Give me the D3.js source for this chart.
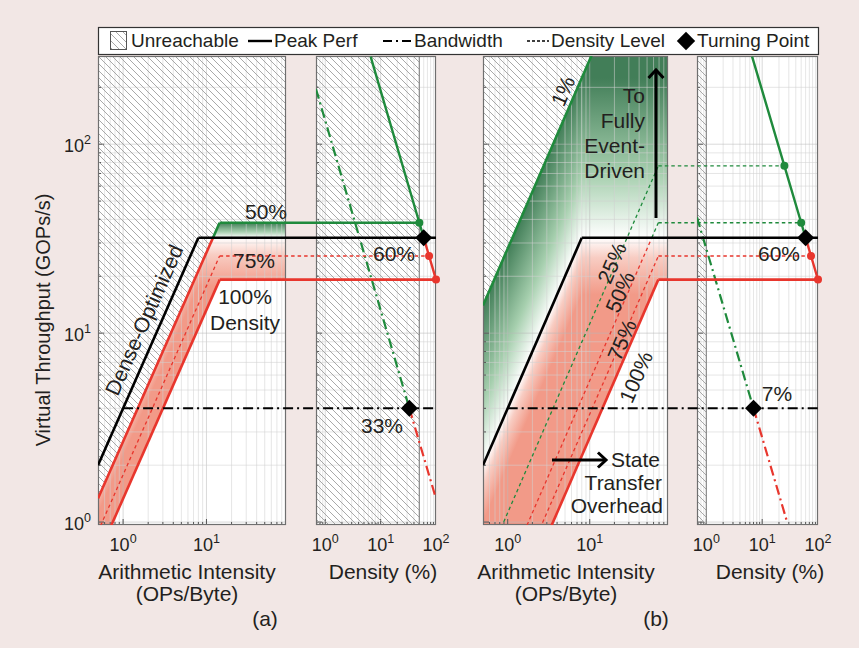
<!DOCTYPE html>
<html>
<head>
<meta charset="utf-8">
<script src="https://cdn.jsdelivr.net/npm/d3@7/dist/d3.min.js"></script>
<style>
  body { margin: 0; background: #f2e7e5; }
  svg { display: block; font-family: "Liberation Sans", Arial, Helvetica, sans-serif; }
</style>
</head>
<body>
<svg id="chart" width="859" height="648"></svg>
<script>
// ---- values ----
// dense-optimized roofline (black)
const denseKneeAI = 8;
const densePeak = 32;
const denseBw = 4;                 // GOPs/s at 1 OP/Byte, also the dash-dot level

// panel (a)
const aDensity = [50, 75, 100];
const aPeak = [38.4, 25.6, 19.2];
const aBw = [2.67, 1.78, 1.33];    // GOPs/s at 1 OP/Byte
const aPeakCurveD = [6.6, 50, 60, 75, 100];
const aPeakCurveV = [291, 38.4, 32, 25.6, 19.2];
const aBwCurveD = [0.68, 33, 100];
const aBwCurveV = [196, 4, 1.33];
const aTurnD = [60, 33];
const aTurnV = [32, 4];
const aUnreachD = 50;

// panel (b)
const bDensity = [1, 25, 50, 75, 100];
const bPeak = [1920, 76.8, 38.4, 25.6, 19.2];
const bBw = [28, 1.12, 0.56, 0.373, 0.28];
const bPeakCurveD = [6.6, 25, 50, 60, 75, 100];
const bPeakCurveV = [291, 76.8, 38.4, 32, 25.6, 19.2];
const bBwCurveD = [0.68, 7, 28];
const bBwCurveV = [41, 4, 1];
const bTurnD = [60, 7];
const bTurnV = [32, 4];
const bUnreachD = 1;

const greenLevelMax = 25;          // levels at or below this are drawn green all the way
const yTickExp = [0, 1, 2];

const svg = d3.select("#chart");
const defs = svg.append("defs");
const plotTop = 56, plotBottom = 525;
const ink = "#231f20", green = "#1f8a3c", red = "#e8362d", frameCol = "#6f6f6f";

const y = d3.scaleLog().domain([0.965, 293]).range([plotBottom, plotTop]);

const panels = [
  { id: "a", xs: d3.scaleLog().domain([0.5, 90]).range([98, 286]),
    ds: d3.scaleLog().domain([0.68, 100]).range([316, 436]),
    dens: aDensity, peak: aPeak, bw: aBw,
    pcD: aPeakCurveD, pcV: aPeakCurveV, bcD: aBwCurveD, bcV: aBwCurveV,
    turnD: aTurnD, turnV: aTurnV, unreach: aUnreachD, greenSat: 1.2, pinkSat: 1.8 },
  { id: "b", xs: d3.scaleLog().domain([0.5, 90]).range([483, 668]),
    ds: d3.scaleLog().domain([0.68, 100]).range([697, 818]),
    dens: bDensity, peak: bPeak, bw: bBw,
    pcD: bPeakCurveD, pcV: bPeakCurveV, bcD: bBwCurveD, bcV: bBwCurveV,
    turnD: bTurnD, turnV: bTurnV, unreach: bUnreachD, greenSat: 7, pinkSat: 2 }
];

// hatch pattern for the unreachable area
const pat = defs.append("pattern").attr("id", "hatch")
  .attr("patternUnits", "userSpaceOnUse").attr("width", 7).attr("height", 7);
pat.append("path").attr("d", "M-1,-1L8,8M-1,6L1,8M6,-1L8,1")
  .attr("stroke", "#9a9a9a").attr("stroke-width", 0.85);

function addClip(id, x0, x1) {
  defs.append("clipPath").attr("id", id).append("rect")
    .attr("x", x0).attr("y", plotTop).attr("width", x1 - x0).attr("height", plotBottom - plotTop);
}

function gradient(id, p1, p2, stops) {
  const g = defs.append("linearGradient").attr("id", id).attr("gradientUnits", "userSpaceOnUse")
    .attr("x1", p1[0]).attr("y1", p1[1]).attr("x2", p2[0]).attr("y2", p2[1]);
  stops.forEach(s => g.append("stop").attr("offset", s[0]).attr("stop-color", s[1]));
}

const roof = (ai, pk, bw) => Math.min(pk, bw * ai);
const dense = ai => roof(ai, densePeak, denseBw);

const pinkStops = [[0, "#ffffff"], [0.35, "#f8cdc3"], [1, "#f29a88"]];
const greenStops = [[0, "#ffffff"], [0.4, "#a6cfae"], [1, "#427e58"]];

function path(pts) { return "M" + pts.map(p => p.join(",")).join("L"); }

function draw(p) {
  const { xs, ds } = p;
  const [x0, x1] = xs.range(), [u0, u1] = ds.range();
  const lo = xs.domain()[0], hi = xs.domain()[1];
  const kx = xs(denseKneeAI), ky = y(densePeak);
  addClip(p.id + "L", x0, x1);
  addClip(p.id + "D", u0, u1);
  addClip(p.id + "L1", x0, kx);
  addClip(p.id + "L2", kx, x1);

  // panel backgrounds
  [[x0, x1], [u0, u1]].forEach(([a, b]) =>
    svg.append("rect").attr("x", a).attr("y", plotTop).attr("width", b - a)
      .attr("height", plotBottom - plotTop).attr("fill", "#fff"));

  // shading gradients: diagonal left of the dense knee, vertical right of it
  const Dx = xs(10) - xs(1), Dy = y(1) - y(10);
  function diag(id, s, sat, stops) {
    const gx = s / Dx, gy = s / Dy, n2 = gx * gx + gy * gy, L = Math.log10(sat);
    gradient(id, [kx, ky], [kx + gx * L / n2, ky + gy * L / n2], stops);
  }
  function vert(id, s, sat, stops) {
    gradient(id, [kx, ky], [kx, y(densePeak * Math.pow(sat, -s))], stops);
  }
  diag(p.id + "pinkD", 1, p.pinkSat, pinkStops);
  vert(p.id + "pinkV", 1, p.pinkSat, pinkStops);
  diag(p.id + "greenD", -1, p.greenSat, greenStops);
  vert(p.id + "greenV", -1, p.greenSat, greenStops);

  const n = p.dens.length, pk0 = p.peak[0], bw0 = p.bw[0], pkL = p.peak[n - 1], bwL = p.bw[n - 1];
  const breaks = [denseKneeAI, densePeak / bw0, pk0 / denseBw].concat(p.dens.map((d, i) => p.peak[i] / p.bw[i]));
  function band(upper, lower) {
    const pts = Array.from(new Set(breaks.filter(b => b > lo && b < hi).concat([lo, hi]))).sort((a, b) => a - b);
    const up = pts.map(a => [xs(a), y(upper(a))]);
    const dn = pts.slice().reverse().map(a => [xs(a), y(lower(a))]);
    return path(up.concat(dn)) + "Z";
  }
  const greenBand = band(a => Math.max(roof(a, pk0, bw0), dense(a)), dense);
  const pinkBand = band(a => Math.min(roof(a, pk0, bw0), dense(a)), a => roof(a, pkL, bwL));
  [["L1", "D"], ["L2", "V"]].forEach(([c, g]) => {
    const grp = svg.append("g").attr("clip-path", `url(#${p.id}${c})`);
    grp.append("path").attr("d", pinkBand).attr("fill", `url(#${p.id}pink${g})`);
    grp.append("path").attr("d", greenBand).attr("fill", `url(#${p.id}green${g})`);
  });

  // grid
  [[xs, x0, x1, "L"], [ds, u0, u1, "D"]].forEach(([sc, a, b, c]) => {
    const g = svg.append("g").attr("clip-path", `url(#${p.id}${c})`);
    const isMajor = t => Math.abs(Math.log10(t) - Math.round(Math.log10(t))) < 1e-6;
    sc.ticks().forEach(t => g.append("line").attr("x1", sc(t)).attr("x2", sc(t))
      .attr("y1", plotTop).attr("y2", plotBottom)
      .attr("stroke", isMajor(t) ? "#b9b9b9" : "#d2d2d2").attr("stroke-opacity", 0.55).attr("stroke-width", 1));
    y.ticks().forEach(t => g.append("line").attr("x1", a).attr("x2", b)
      .attr("y1", y(t)).attr("y2", y(t))
      .attr("stroke", isMajor(t) ? "#b9b9b9" : "#d2d2d2").attr("stroke-opacity", 0.55).attr("stroke-width", 1));
    // inward ticks on bottom and left edges
    sc.ticks().forEach(t => g.append("line").attr("x1", sc(t)).attr("x2", sc(t))
      .attr("y1", plotBottom).attr("y2", plotBottom - (isMajor(t) ? 6 : 3)).attr("stroke", "#555"));
    y.ticks().forEach(t => g.append("line").attr("x1", a).attr("x2", a + (isMajor(t) ? 6 : 3))
      .attr("y1", y(t)).attr("y2", y(t)).attr("stroke", "#555"));
  });

  // unreachable hatch
  const hatchPts = [[lo, roof(lo, pk0, bw0)], [pk0 / bw0, pk0], [hi, pk0], [hi, 1e5], [lo, 1e5]]
    .map(d => [xs(d[0]), y(d[1])]);
  svg.append("path").attr("clip-path", `url(#${p.id}L)`).attr("d", path(hatchPts) + "Z").attr("fill", "url(#hatch)");
  svg.append("rect").attr("x", u0).attr("y", plotTop).attr("width", ds(p.unreach) - u0)
    .attr("height", plotBottom - plotTop).attr("fill", "url(#hatch)");
  svg.append("line").attr("x1", ds(p.unreach)).attr("x2", ds(p.unreach)).attr("y1", plotTop).attr("y2", plotBottom)
    .attr("stroke", "#8c8c8c").attr("stroke-width", 1.2);

  // frames
  [[x0, x1], [u0, u1]].forEach(([a, b]) =>
    svg.append("rect").attr("x", a + 0.5).attr("y", plotTop + 0.5).attr("width", b - a - 1)
      .attr("height", plotBottom - plotTop - 1).attr("fill", "none").attr("stroke", frameCol).attr("stroke-width", 1.2));

  const gL = svg.append("g").attr("clip-path", `url(#${p.id}L)`);
  const gD = svg.append("g").attr("clip-path", `url(#${p.id}D)`);
  function seg(g, pts, color, w, dash) {
    g.append("path").attr("d", path(pts)).attr("fill", "none").attr("stroke", color)
      .attr("stroke-width", w).attr("stroke-dasharray", dash || null).attr("stroke-linejoin", "round");
  }
  const dashDot = "10,4,2,4";

  // dense-optimized roofline and dense bandwidth level
  seg(gL, [[xs(lo), y(dense(lo))], [kx, ky]], "#000", 2.6);
  seg(svg, [[kx, ky], [u1, ky]], "#000", 2.6);
  seg(svg, [[xs(1), y(denseBw)], [u1, y(denseBw)]], "#000", 2, dashDot);

  // density-level rooflines
  p.dens.forEach((d, i) => {
    const pk = p.peak[i], bw = p.bw[i], knee = pk / bw;
    const solid = i === 0 || i === n - 1;
    const w = solid ? 2.6 : 1.3, dash = solid ? null : "3.5,3";
    const P = a => [xs(a), y(roof(a, pk, bw))];
    if (bw >= denseBw || d <= greenLevelMax) {
      seg(gL, [P(lo), P(knee)], green, w, dash);
    } else if (pk > densePeak) {
      const cross = densePeak / bw;
      seg(gL, [P(lo), P(cross)], red, w, dash);
      seg(gL, [P(cross), P(knee)], green, w, dash);
    } else {
      seg(gL, [P(lo), P(knee)], red, w, dash);
    }
    if (pk < y.domain()[1]) {
      seg(svg, [[xs(knee), y(pk)], [ds(d), y(pk)]], pk > densePeak ? green : red, w, dash);
    }
  });

  // density panel curves, split at the turning points
  function curve(D, V, turn, dash, w) {
    const k = D.indexOf(turn);
    const pts = D.map((d, i) => [ds(d), y(V[i])]);
    seg(gD, pts.slice(0, k + 1), green, w, dash);
    seg(gD, pts.slice(k), red, w, dash);
  }
  curve(p.pcD, p.pcV, p.turnD[0], null, 2.4);
  curve(p.bcD, p.bcV, p.turnD[1], dashDot, 2.2);

  // dots at each density level
  p.dens.forEach((d, i) => {
    if (p.peak[i] >= y.domain()[1]) return;
    svg.append("circle").attr("cx", ds(d)).attr("cy", y(p.peak[i])).attr("r", 4)
      .attr("fill", p.peak[i] > densePeak ? green : red);
  });
  // turning points
  p.turnD.forEach((d, i) => {
    svg.append("rect").attr("x", -6).attr("y", -6).attr("width", 12).attr("height", 12)
      .attr("fill", "#000")
      .attr("transform", `translate(${ds(d)},${y(p.turnV[i])}) rotate(45)`);
  });

  // x tick labels
  const sup = (g, x, yb, e, anchor) => {
    const t = g.append("text").attr("x", x).attr("y", yb).attr("text-anchor", anchor)
      .attr("fill", ink).attr("font-size", 18);
    t.append("tspan").text("10");
    t.append("tspan").attr("dy", -8).attr("font-size", 12.5).text(e);
  };
  [[xs, [0, 1]], [ds, [0, 1, 2]]].forEach(([sc, es]) =>
    es.forEach(e => sup(svg, sc(Math.pow(10, e)), 551, e, "middle")));
  if (p.id === "a") yTickExp.forEach(e => sup(svg, 91, y(Math.pow(10, e)) + 8, e, "end"));
}

panels.forEach(draw);

// ---- text ----
function label(txt, x, yb, opt = {}) {
  const t = svg.append("text").attr("x", x).attr("y", yb).attr("fill", ink)
    .attr("font-size", opt.size || 21).attr("text-anchor", opt.anchor || "middle").text(txt);
  if (opt.rot) t.attr("transform", `rotate(${opt.rot},${x},${yb})`).attr("dy", "0.35em").attr("y", yb);
  return t;
}
// axis titles
label("Virtual Throughput (GOPs/s)", 43, 320, { rot: -90, size: 20 });
[["a", 187, 383, 265], ["b", 566, 770, 656]].forEach(([k, xa, xd, xl]) => {
  label("Arithmetic Intensity", xa, 579);
  label("(OPs/Byte)", xa, 601);
  label("Density (%)", xd, 579);
  label(`(${k})`, xl, 626);
});

// panel (a) annotations
const rotA = -66;
label("50%", 266, 219);
label("75%", 254, 268);
label("60%", 394, 261);
label("100%", 245, 304);
label("Density", 245, 330);
label("Dense-Optimized", 144, 320, { rot: rotA });
label("33%", 382, 433);

// panel (b) annotations
const rotB = -66.5;
label("1%", 563, 91, { rot: rotB });
["To", "Fully", "Event-", "Driven"].forEach((s, i) => label(s, 645, 103 + i * 25, { anchor: "end" }));
label("25%", 612, 263, { rot: rotB });
label("50%", 620, 292, { rot: rotB });
label("75%", 622, 340, { rot: rotB });
label("100%", 636, 377, { rot: rotB });
label("60%", 779, 261);
label("7%", 777, 401);
label("State", 660, 467, { anchor: "end" });
label("Transfer", 662, 490, { anchor: "end" });
label("Overhead", 663, 513, { anchor: "end" });

// arrows
function arrow(xa, ya, xb, yb) {
  svg.append("line").attr("x1", xa).attr("y1", ya).attr("x2", xb).attr("y2", yb)
    .attr("stroke", "#000").attr("stroke-width", 3);
  const ang = Math.atan2(yb - ya, xb - xa), L = 11, sp = 0.75;
  const a1 = [xb - L * Math.cos(ang - sp), yb - L * Math.sin(ang - sp)];
  const a2 = [xb - L * Math.cos(ang + sp), yb - L * Math.sin(ang + sp)];
  svg.append("path").attr("d", `M${a1}L${xb},${yb}L${a2}`).attr("fill", "none")
    .attr("stroke", "#000").attr("stroke-width", 3).attr("stroke-linejoin", "miter");
}
arrow(656, 218, 656, 70);
arrow(552, 460, 606, 460);

// ---- legend ----
const lg = svg.append("g");
lg.append("rect").attr("x", 98.5).attr("y", 27.5).attr("width", 720).attr("height", 27)
  .attr("fill", "#fff").attr("stroke", "#333").attr("stroke-width", 1.2);
lg.append("rect").attr("x", 110.5).attr("y", 31.5).attr("width", 16).attr("height", 18)
  .attr("fill", "url(#hatch)").attr("stroke", "#555");
const legText = (s, x) => lg.append("text").attr("x", x).attr("y", 47).attr("fill", ink)
  .attr("font-size", 19).text(s);
legText("Unreachable", 131);
lg.append("line").attr("x1", 248).attr("x2", 272).attr("y1", 41).attr("y2", 41).attr("stroke", "#000").attr("stroke-width", 2.4);
legText("Peak Perf", 274);
lg.append("line").attr("x1", 383).attr("x2", 411).attr("y1", 41).attr("y2", 41).attr("stroke", "#000")
  .attr("stroke-width", 2).attr("stroke-dasharray", "9,4,2,4");
legText("Bandwidth", 414);
lg.append("line").attr("x1", 527).attr("x2", 549).attr("y1", 41).attr("y2", 41).attr("stroke", "#000")
  .attr("stroke-width", 1.5).attr("stroke-dasharray", "3,2");
legText("Density Level", 551);
lg.append("rect").attr("x", -6.5).attr("y", -6.5).attr("width", 13).attr("height", 13).attr("fill", "#000")
  .attr("transform", "translate(686,41) rotate(45)");
legText("Turning Point", 697);
</script>
</body>
</html>
